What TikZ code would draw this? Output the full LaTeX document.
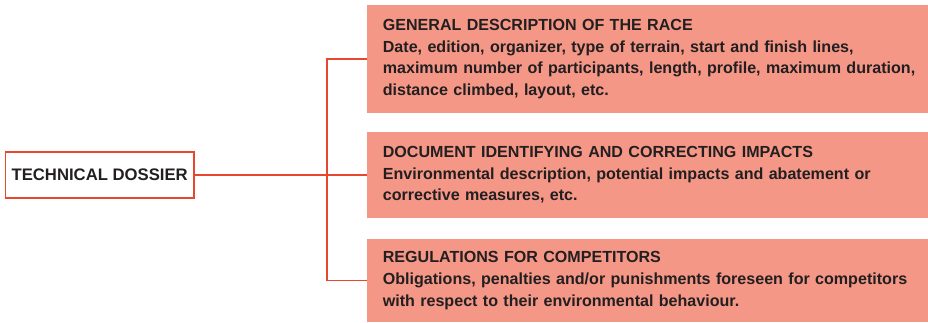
\documentclass[tikz,border=0pt]{standalone}
\usepackage{fontspec}
\setmainfont{Liberation Sans}
\usepackage{tikz}
\definecolor{dossierred}{HTML}{E8472F}
\definecolor{itemfill}{HTML}{F59787}
\definecolor{itemtext}{HTML}{231F20}

\begin{document}
\begin{tikzpicture}[x=0.02cm,y=-0.02cm,
  dossier/.style={draw=dossierred,line width=0.8pt,minimum width=3.77cm,minimum height=0.92cm,inner sep=0pt,font=\bfseries\fontsize{9.5}{12.3}\selectfont,text=itemtext},
  item/.style={fill=itemfill,anchor=west,align=left,inner xsep=0.31cm,inner ysep=0pt,text width=11cm,font=\bfseries\fontsize{9.15}{12.3}\selectfont,text=itemtext},
  link/.style={draw=dossierred,line width=0.8pt}]
  \useasboundingbox (0,0) rectangle (928,323);

  %left box
  \node[dossier] (dossier) at (99.7,175) {TECHNICAL DOSSIER};

  %right boxes
  \node[item,minimum height=2.16cm] (race) at (367,59)
    {GENERAL DESCRIPTION OF THE RACE\\
     Date, edition, organizer, type of terrain, start and finish lines,\\
     maximum number of participants, length, profile, maximum duration,\\
     distance climbed, layout, etc.};
  \node[item,minimum height=1.72cm] (impacts) at (367,175)
    {DOCUMENT IDENTIFYING AND CORRECTING IMPACTS\\
     Environmental description, potential impacts and abatement or\\
     corrective measures, etc.};
  \node[item,minimum height=1.68cm] (rules) at (367,280.5)
    {REGULATIONS FOR COMPETITORS\\
     Obligations, penalties and/or punishments foreseen for competitors\\
     with respect to their environmental behaviour.};

  %connectors
  \draw[link] (dossier.east) -- (impacts.west);
  \draw[link] (race.west) -- ++(-40,0) |- (rules.west);
\end{tikzpicture}
\end{document}
